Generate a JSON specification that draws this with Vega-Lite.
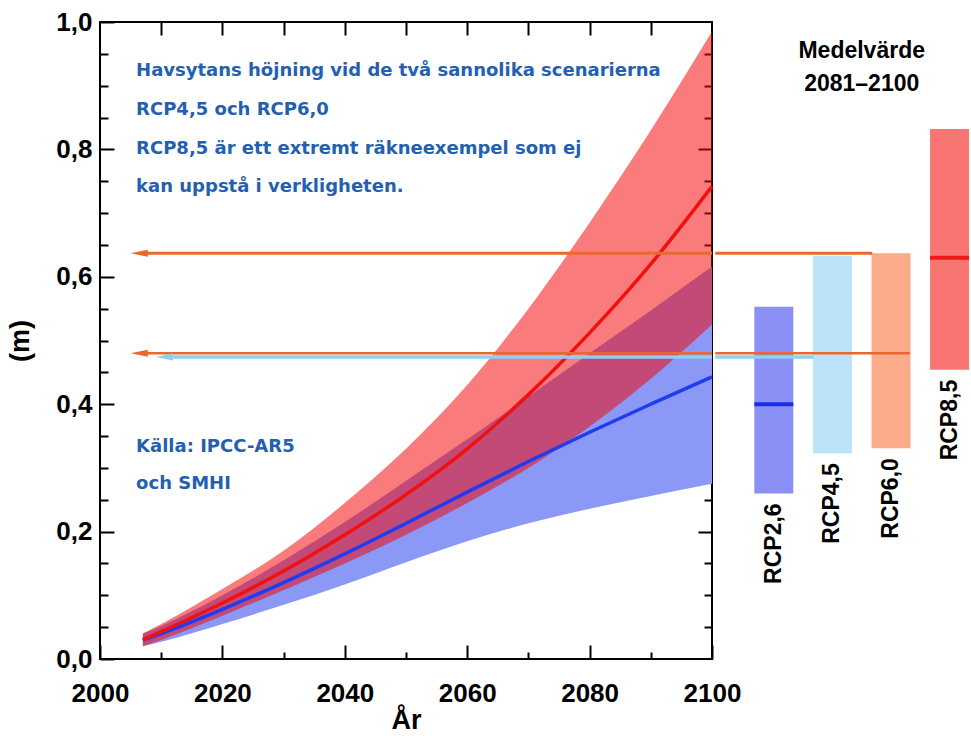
{
  "$schema": "https://vega.github.io/schema/vega-lite/v6.json",
  "background": "white",
  "padding": {"left": 5, "top": 8, "right": 0, "bottom": 0},
  "spacing": 0,
  "bounds": "flush",
  "resolve": {"scale": {"color": "independent", "strokeWidth": "independent"}},
  "config": {
    "view": {"stroke": "#000", "strokeWidth": 2},
    "axis": {"domain": false, "grid": false, "ticks": true, "tickColor": "#000", "tickWidth": 2, "labelColor": "#000", "labelFont": "Liberation Sans", "labelFontWeight": "bold", "labelFontSize": 26, "titleColor": "#000", "titleFont": "Liberation Sans", "titleFontWeight": "bold", "titleFontSize": 27, "labelFlush": false, "labelOverlap": false, "zindex": 1}
  },
  "datasets": {
    "rcp26": [
      {"year": 2007, "lo": 0.020, "mid": 0.030, "hi": 0.040},
      {"year": 2010, "lo": 0.027, "mid": 0.040, "hi": 0.052},
      {"year": 2020, "lo": 0.055, "mid": 0.078, "hi": 0.100},
      {"year": 2030, "lo": 0.085, "mid": 0.120, "hi": 0.155},
      {"year": 2040, "lo": 0.117, "mid": 0.165, "hi": 0.215},
      {"year": 2050, "lo": 0.152, "mid": 0.213, "hi": 0.280},
      {"year": 2060, "lo": 0.185, "mid": 0.262, "hi": 0.345},
      {"year": 2070, "lo": 0.213, "mid": 0.310, "hi": 0.412},
      {"year": 2080, "lo": 0.236, "mid": 0.356, "hi": 0.480},
      {"year": 2090, "lo": 0.256, "mid": 0.400, "hi": 0.547},
      {"year": 2100, "lo": 0.275, "mid": 0.443, "hi": 0.616}
    ],
    "rcp85": [
      {"year": 2007, "lo": 0.020, "mid": 0.030, "hi": 0.040},
      {"year": 2010, "lo": 0.030, "mid": 0.043, "hi": 0.055},
      {"year": 2020, "lo": 0.068, "mid": 0.088, "hi": 0.110},
      {"year": 2030, "lo": 0.108, "mid": 0.138, "hi": 0.170},
      {"year": 2040, "lo": 0.150, "mid": 0.195, "hi": 0.245},
      {"year": 2050, "lo": 0.195, "mid": 0.258, "hi": 0.330},
      {"year": 2060, "lo": 0.245, "mid": 0.330, "hi": 0.430},
      {"year": 2070, "lo": 0.300, "mid": 0.415, "hi": 0.550},
      {"year": 2080, "lo": 0.365, "mid": 0.512, "hi": 0.685},
      {"year": 2090, "lo": 0.440, "mid": 0.620, "hi": 0.830},
      {"year": 2100, "lo": 0.525, "mid": 0.742, "hi": 0.985}
    ],
    "bars": [
      {"scenario": "RCP2,6", "slot": 1, "lo": 0.260, "hi": 0.553, "mean": 0.40},
      {"scenario": "RCP4,5", "slot": 2, "lo": 0.323, "hi": 0.633, "mean": 0.47},
      {"scenario": "RCP6,0", "slot": 3, "lo": 0.331, "hi": 0.637, "mean": 0.48},
      {"scenario": "RCP8,5", "slot": 4, "lo": 0.454, "hi": 0.832, "mean": 0.63}
    ],
    "arrows": [
      {"series": "RCP4,5", "m": 0.474, "start": 2010.5, "end_slot": 1.68},
      {"series": "upper", "m": 0.637, "start": 2006.4, "end_slot": 2.68},
      {"series": "lower", "m": 0.480, "start": 2006.4, "end_slot": 3.32}
    ],
    "notes": [
      {"text": "Havsytans höjning vid de två sannolika scenarierna", "year": 2005.9, "m": 0.923},
      {"text": "RCP4,5 och RCP6,0", "year": 2005.9, "m": 0.862},
      {"text": "RCP8,5 är ett extremt räkneexempel som ej", "year": 2005.9, "m": 0.801},
      {"text": "kan uppstå i verkligheten.", "year": 2005.9, "m": 0.741},
      {"text": "Källa: IPCC-AR5", "year": 2005.9, "m": 0.333},
      {"text": "och SMHI", "year": 2005.9, "m": 0.275}
    ]
  },
  "hconcat": [
    {
      "width": 612,
      "height": 637,
      "layer": [
        {
          "data": {"name": "rcp26"},
          "mark": {"type": "area", "color": "#8b98f6", "interpolate": "monotone"},
          "encoding": {
            "x": {"field": "year", "type": "quantitative", "scale": {"domain": [2000, 2100], "nice": false, "zero": false},
              "axis": {"orient": "bottom", "values": [2000, 2020, 2040, 2060, 2080, 2100], "format": "d", "offset": -14, "tickSize": 14, "labelPadding": 21, "title": "År", "titlePadding": 1}},
            "y": {"field": "lo", "type": "quantitative", "scale": {"domain": [0, 1], "nice": false},
              "axis": {"orient": "left", "values": [0, 0.2, 0.4, 0.6, 0.8, 1], "offset": -14, "tickSize": 14, "labelPadding": 8, "labelExpr": "replace(format(datum.value, '.1f'), '.', ',')", "title": "(m)", "titlePadding": 21}},
            "y2": {"field": "hi"}
          }
        },
        {
          "data": {"name": "rcp85"},
          "mark": {"type": "area", "color": "#f50606", "opacity": 0.53, "interpolate": "monotone"},
          "encoding": {
            "x": {"field": "year", "type": "quantitative", "scale": {"domain": [2000, 2100], "nice": false, "zero": false},
              "axis": {"orient": "bottom", "values": [2010, 2030, 2050, 2070, 2090], "offset": -7, "tickSize": 7, "labels": false, "title": null}},
            "y": {"field": "lo", "type": "quantitative", "scale": {"domain": [0, 1], "nice": false},
              "axis": {"orient": "left", "values": [0.05, 0.1, 0.15, 0.25, 0.3, 0.35, 0.45, 0.5, 0.55, 0.65, 0.7, 0.75, 0.85, 0.9, 0.95], "offset": -8, "tickSize": 8, "labels": false, "title": null}},
            "y2": {"field": "hi"}
          }
        },
        {
          "data": {"name": "rcp26"},
          "mark": {"type": "line", "color": "#1f3cf0", "strokeWidth": 3.5, "interpolate": "monotone"},
          "encoding": {
            "x": {"field": "year", "type": "quantitative", "scale": {"domain": [2000, 2100], "nice": false, "zero": false},
              "axis": {"orient": "top", "values": [2010, 2020, 2030, 2040, 2050, 2060, 2070, 2080, 2090], "offset": -13, "tickSize": 13, "labels": false, "title": null}},
            "y": {"field": "mid", "type": "quantitative", "scale": {"domain": [0, 1], "nice": false},
              "axis": {"orient": "right", "values": [0.2, 0.4, 0.6, 0.8], "offset": -14, "tickSize": 14, "labels": false, "title": null}}
          }
        },
        {
          "data": {"name": "rcp85"},
          "mark": {"type": "line", "color": "#f01010", "strokeWidth": 3.5, "interpolate": "monotone"},
          "encoding": {
            "x": {"field": "year", "type": "quantitative", "scale": {"domain": [2000, 2100], "nice": false, "zero": false}, "axis": null},
            "y": {"field": "mid", "type": "quantitative", "scale": {"domain": [0, 1], "nice": false},
              "axis": {"orient": "right", "values": [0.05, 0.1, 0.15, 0.25, 0.3, 0.35, 0.45, 0.5, 0.55, 0.65, 0.7, 0.75, 0.85, 0.9, 0.95], "offset": -8, "tickSize": 8, "labels": false, "title": null}}
          }
        },
        {
          "data": {"name": "arrows"},
          "mark": {"type": "rule"},
          "encoding": {
            "x": {"field": "start", "type": "quantitative", "scale": {"domain": [2000, 2100], "nice": false, "zero": false}, "axis": null},
            "x2": {"datum": 2100},
            "y": {"field": "m", "type": "quantitative", "scale": {"domain": [0, 1], "nice": false}, "axis": null},
            "color": {"field": "series", "type": "nominal", "scale": {"domain": ["RCP4,5", "upper", "lower"], "range": ["#8ecff4", "#e8692e", "#e8692e"]}, "legend": null},
            "strokeWidth": {"field": "series", "type": "nominal", "scale": {"domain": ["RCP4,5", "upper", "lower"], "range": [3.5, 2.5, 2.5]}, "legend": null}
          }
        },
        {
          "data": {"name": "arrows"},
          "mark": {"type": "point", "shape": "M-1,0L1,-0.4L1,0.4Z", "filled": true, "opacity": 1, "size": 300},
          "encoding": {
            "x": {"field": "start", "type": "quantitative", "scale": {"domain": [2000, 2100], "nice": false, "zero": false}, "axis": null},
            "y": {"field": "m", "type": "quantitative", "scale": {"domain": [0, 1], "nice": false}, "axis": null},
            "color": {"field": "series", "type": "nominal", "scale": {"domain": ["RCP4,5", "upper", "lower"], "range": ["#8ecff4", "#e8692e", "#e8692e"]}, "legend": null}
          }
        },
        {
          "data": {"name": "notes"},
          "mark": {"type": "text", "align": "left", "baseline": "middle", "font": "DejaVu Sans", "fontWeight": "bold", "fontSize": 18, "color": "#2360b0"},
          "encoding": {
            "x": {"field": "year", "type": "quantitative", "scale": {"domain": [2000, 2100], "nice": false, "zero": false}, "axis": null},
            "y": {"field": "m", "type": "quantitative", "scale": {"domain": [0, 1], "nice": false}, "axis": null},
            "text": {"field": "text"}
          }
        }
      ],
      "resolve": {"scale": {"x": "shared", "y": "shared"}, "axis": {"x": "independent", "y": "independent"}}
    },
    {
      "width": 259,
      "height": 637,
      "view": {"stroke": null},
      "layer": [
        {
          "data": {"name": "bars"},
          "mark": {"type": "bar", "width": 39, "clip": true},
          "encoding": {
            "x": {"field": "slot", "type": "quantitative", "scale": {"domain": [0.03, 4.28], "nice": false, "zero": false}, "axis": null},
            "y": {"field": "lo", "type": "quantitative", "scale": {"domain": [0, 1], "nice": false}, "axis": null},
            "y2": {"field": "hi"},
            "color": {"field": "scenario", "type": "nominal", "scale": {"domain": ["RCP2,6", "RCP4,5", "RCP6,0", "RCP8,5"], "range": ["#8a90f5", "#bde3fb", "#f9ab8b", "#f87672"]}, "legend": null}
          }
        },
        {
          "data": {"name": "bars"},
          "transform": [{"filter": "datum.scenario == 'RCP2,6' || datum.scenario == 'RCP8,5'"}],
          "mark": {"type": "tick", "orient": "horizontal", "size": 39, "thickness": 4, "opacity": 1, "clip": true},
          "encoding": {
            "x": {"field": "slot", "type": "quantitative", "scale": {"domain": [0.03, 4.28], "nice": false, "zero": false}, "axis": null},
            "y": {"field": "mean", "type": "quantitative", "scale": {"domain": [0, 1], "nice": false}, "axis": null},
            "color": {"field": "scenario", "type": "nominal", "scale": {"domain": ["RCP2,6", "RCP8,5"], "range": ["#1a2ee6", "#f01818"]}, "legend": null}
          }
        },
        {
          "data": {"name": "arrows"},
          "mark": {"type": "rule", "clip": true},
          "encoding": {
            "x": {"field": "end_slot", "type": "quantitative", "scale": {"domain": [0.03, 4.28], "nice": false, "zero": false}, "axis": null},
            "x2": {"datum": 0},
            "y": {"field": "m", "type": "quantitative", "scale": {"domain": [0, 1], "nice": false}, "axis": null},
            "color": {"field": "series", "type": "nominal", "scale": {"domain": ["RCP4,5", "upper", "lower"], "range": ["#8ecff4", "#e8692e", "#e8692e"]}, "legend": null},
            "strokeWidth": {"field": "series", "type": "nominal", "scale": {"domain": ["RCP4,5", "upper", "lower"], "range": [3.5, 2.5, 2.5]}, "legend": null}
          }
        },
        {
          "data": {"name": "bars"},
          "mark": {"type": "text", "angle": 270, "align": "right", "baseline": "middle", "dx": -10, "font": "Liberation Sans", "fontWeight": "bold", "fontSize": 23, "color": "#000"},
          "encoding": {
            "x": {"field": "slot", "type": "quantitative", "scale": {"domain": [0.03, 4.28], "nice": false, "zero": false}, "axis": null},
            "y": {"field": "lo", "type": "quantitative", "scale": {"domain": [0, 1], "nice": false}, "axis": null},
            "text": {"field": "scenario"}
          }
        },
        {
          "data": {"values": [{"label": "Medelvärde 2081–2100"}]},
          "mark": {"type": "text", "align": "center", "baseline": "middle", "font": "Liberation Sans", "fontWeight": "bold", "fontSize": 23, "lineHeight": 33, "color": "#000"},
          "encoding": {
            "x": {"datum": 2.5, "type": "quantitative", "scale": {"domain": [0.03, 4.28], "nice": false, "zero": false}, "axis": null},
            "y": {"datum": 0.954, "type": "quantitative", "scale": {"domain": [0, 1], "nice": false}, "axis": null},
            "text": {"value": ["Medelvärde", "2081–2100"]}
          }
        }
      ],
      "resolve": {"scale": {"color": "independent"}}
    }
  ]
}
